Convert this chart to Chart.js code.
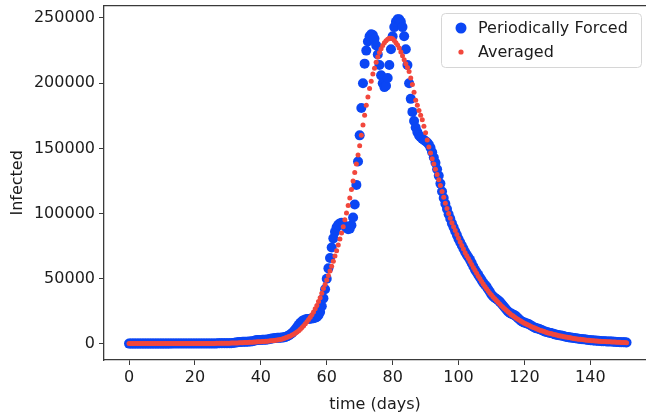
<!DOCTYPE html>
<html>
<head>
<meta charset="utf-8">
<script src="https://cdn.jsdelivr.net/npm/chart.js@4"></script>
<style>
  html, body { margin: 0; padding: 0; background: #fff; overflow: hidden; }
</style>
</head>
<body>
<canvas id="chart" width="646" height="419"></canvas>
<script>
// time step of the solver output (days)
const step = 0.5;

const xTicks = [0, 20, 40, 60, 80, 100, 120, 140];
const yTicks = [0, 50000, 100000, 150000, 200000, 250000];

// Periodically forced model (one value every half day, day 0 .. 151)
const forced = [
  300,300,300,300,300,300,300,300,300,300,
  300,300,300,300,300,300,300,300,300,300,
  300,300,300,300,300,310,320,330,330,330,
  330,330,330,330,330,340,350,360,360,360,
  360,360,360,360,370,390,410,430,440,440,
  440,440,440,450,480,520,560,580,590,590,
  590,600,650,750,900,1100,1300,1500,1600,1650,
  1700,1700,1750,1850,2000,2200,2500,2800,3000,3100,
  3150,3200,3250,3350,3500,3700,4000,4300,4500,4600,
  4700,4750,4800,4900,5100,5400,5900,6600,7500,8500,
  9800,11300,13000,14800,16300,17500,18300,18800,19100,19200,
  19300,19500,19700,20100,20700,22000,24500,29000,35000,42000,
  50000,58000,66000,74000,81000,86000,89500,91500,92500,93000,
  92000,90500,89000,88000,88500,91000,97000,107000,122000,140000,
  160000,181000,200000,215000,225000,232000,236000,237500,237000,234000,
  229000,222000,214000,206000,200000,197000,198000,204000,214000,226000,
  236000,243000,247000,249000,249000,247000,243000,236000,226000,214000,
  200000,188000,178000,171000,166000,162500,160000,158500,157500,156500,
  155500,154500,153000,150500,147000,143000,139000,134000,129000,123000,
  117000,112000,107500,103500,99500,96000,92500,89500,86500,83500,
  80500,78000,75500,73000,70500,68500,66500,64500,62000,59500,
  57000,55000,53000,51000,49000,47000,45500,44000,42000,40000,
  38000,36500,35500,34500,33500,32500,31000,29500,28000,26500,
  25000,24000,23300,22700,22000,21200,20000,18800,17700,16900,
  16400,16000,15600,15000,14200,13400,12700,12200,11800,11500,
  11000,10400,9800,9300,9000,8700,8400,8000,7600,7200,
  6900,6700,6500,6300,6000,5600,5300,5100,4900,4800,
  4600,4400,4200,4000,3800,3700,3600,3500,3300,3100,
  2900,2800,2700,2600,2500,2400,2300,2200,2100,2050,
  2000,1950,1900,1850,1750,1650,1550,1450,1400,1350,
  1300,1250,1200
];

// Averaged model
const averaged = [
  300,300,300,300,300,300,300,300,300,300,
  300,300,300,300,300,300,300,300,300,300,
  300,300,310,310,310,320,320,320,330,330,
  330,330,340,340,340,340,350,350,350,350,
  350,360,370,380,390,400,410,420,430,440,
  450,460,470,490,510,520,540,550,570,590,
  600,640,680,710,750,800,850,900,950,1000,
  1070,1130,1200,1270,1350,1420,1500,1580,1650,1720,
  1800,1900,2000,2100,2200,2300,2400,2500,2600,2800,
  3000,3250,3500,3900,4300,4750,5200,5700,6200,6850,
  7500,8350,9200,10200,11300,12600,14000,15500,17000,18700,
  20500,22500,24500,27000,29500,32500,35500,39000,42500,45700,
  49000,52500,56000,59700,63500,67500,71500,76000,80500,85200,
  90000,95200,100500,106200,112000,118500,125000,131500,138000,145000,
  152000,160000,168000,175500,183000,189500,196000,201500,207000,211500,
  216000,220000,223500,226500,229000,231000,232500,233700,234500,234500,
  234000,232700,231000,229300,227000,224000,221000,218000,215000,212000,
  209000,204000,199000,193000,187000,183000,179000,175500,172000,167000,
  162000,156500,151000,146500,142000,138000,134000,130000,126000,121500,
  117000,112500,108000,104000,100000,96500,93000,90000,87000,84000,
  81000,78200,75500,72800,70000,67700,65500,63200,61000,58700,
  56500,54200,52000,50000,48000,46000,44000,42300,40600,39000,
  37500,36100,34700,33300,32000,30700,29400,28200,27000,25900,
  24700,23600,22500,21600,20700,19800,19000,18200,17500,16700,
  16000,15400,14700,14100,13500,12900,12400,11800,11300,10800,
  10400,9900,9500,9100,8700,8300,8000,7700,7300,7000,
  6700,6400,6200,5900,5600,5400,5200,4900,4700,4500,
  4300,4100,3900,3700,3550,3400,3200,3050,2950,2800,
  2700,2550,2450,2350,2250,2150,2100,2000,1950,1850,
  1800,1700,1650,1550,1500,1450,1400,1350,1300,1200,
  1150,1100,1000
];

const days = averaged.map((_, i) => i * step);

const BLUE = '#0b46f4';
const RED = '#f2473c';
const INK = '#1c1c1c';
const FONT = "'DejaVu Sans', sans-serif";
const FS = 16;

Chart.defaults.font.family = FONT;
Chart.defaults.color = INK;

// top frame line + matplotlib style legend box
const framePlugin = {
  id: 'frame',
  afterDraw(chart) {
    const { ctx, chartArea: a } = chart;
    ctx.save();
    ctx.strokeStyle = '#3a3a3a';
    ctx.lineWidth = 1.3;
    ctx.beginPath();
    ctx.moveTo(a.left, a.top);
    ctx.lineTo(a.right, a.top);
    ctx.stroke();

    // legend
    const bx = 441, by = 13, bw = 200, bh = 54, r = 4;
    ctx.fillStyle = 'rgba(255,255,255,0.85)';
    ctx.strokeStyle = '#d6d6d6';
    ctx.lineWidth = 1;
    ctx.beginPath();
    ctx.roundRect(bx + 0.5, by + 0.5, bw, bh, r);
    ctx.fill();
    ctx.stroke();

    const sets = chart.data.datasets;
    ctx.font = FS + 'px ' + FONT;
    ctx.textBaseline = 'middle';
    sets.forEach((ds, i) => {
      const cy = 28 + i * 24;
      ctx.fillStyle = ds.backgroundColor;
      ctx.beginPath();
      ctx.arc(461, cy, ds.legendRadius, 0, Math.PI * 2);
      ctx.fill();
      ctx.fillStyle = INK;
      ctx.fillText(ds.label, 478, cy + 1);
    });
    ctx.restore();
  }
};

new Chart(document.getElementById('chart'), {
  type: 'scatter',
  data: {
    datasets: [
      {
        label: 'Periodically Forced',
        data: days.map((d, i) => ({ x: d, y: forced[i] })),
        backgroundColor: BLUE,
        pointRadius: 5,
        pointBorderWidth: 0,
        legendRadius: 5.5,
        order: 2
      },
      {
        label: 'Averaged',
        data: days.map((d, i) => ({ x: d, y: averaged[i] })),
        backgroundColor: RED,
        pointRadius: 2.5,
        pointBorderWidth: 0,
        legendRadius: 2.6,
        order: 1
      }
    ]
  },
  options: {
    responsive: false,
    animation: false,
    events: [],
    layout: { autoPadding: false, padding: { top: 5.7, left: 0, right: 0, bottom: 0 } },
    plugins: {
      legend: { display: false },
      tooltip: { enabled: false }
    },
    scales: {
      x: {
        type: 'linear',
        min: -7.6,
        max: 156.9,
        grid: { drawOnChartArea: false, drawTicks: true, tickLength: 5, color: '#3a3a3a' },
        border: { display: true, color: '#3a3a3a', width: 1.3 },
        ticks: { font: { size: FS }, padding: 3, maxRotation: 0, autoSkip: false, callback: v => String(v) },
        afterBuildTicks: s => { s.ticks = xTicks.map(v => ({ value: v })); },
        afterFit: s => { s.height = 59; s.paddingLeft = 0; s.paddingRight = 0; },
        title: { display: true, text: 'time (days)', font: { size: FS }, padding: { top: 0, bottom: 5 } }
      },
      y: {
        type: 'linear',
        min: -12270,
        max: 259430,
        grid: { drawOnChartArea: false, drawTicks: true, tickLength: 5, color: '#3a3a3a' },
        border: { display: true, color: '#3a3a3a', width: 1.3 },
        ticks: { font: { size: FS }, padding: 4, autoSkip: false, callback: v => String(v) },
        afterBuildTicks: s => { s.ticks = yTicks.map(v => ({ value: v })); },
        afterFit: s => { s.width = 104; s.paddingTop = 0; s.paddingBottom = 0; },
        title: { display: true, text: 'Infected', font: { size: FS }, padding: { top: 8, bottom: 4 } }
      }
    }
  },
  plugins: [framePlugin]
});
</script>
</body>
</html>
